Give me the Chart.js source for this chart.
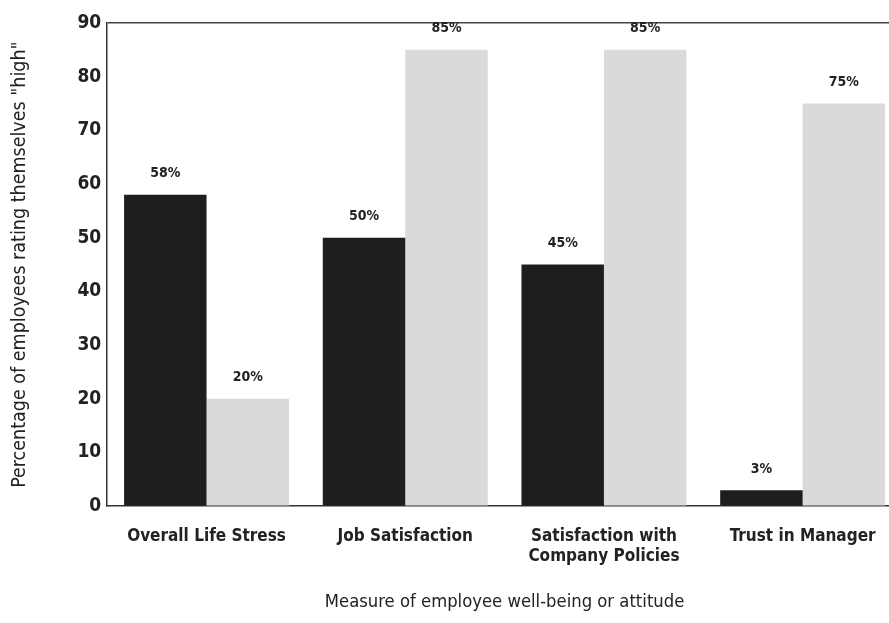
<!DOCTYPE html>
<html>
<head>
<meta charset="utf-8">
<script src="https://cdn.jsdelivr.net/npm/chart.js@4"></script>
<style>
  html, body { margin: 0; padding: 0; background: #fff; overflow: hidden; }
  #wrap { width: 902px; height: 623px; }
</style>
</head>
<body>
<div id="wrap"><canvas id="chart"></canvas></div>
<script>
const categories = [
    'Overall Life Stress',
    'Job Satisfaction',
    ['Satisfaction with', 'Company Policies'],
    'Trust in Manager'
]
const darkValues = [58, 50, 45, 3]
const lightValues = [20, 85, 85, 75]
const yTicks = [0, 10, 20, 30, 40, 50, 60, 70, 80, 90]

const FONT = '"Liberation Sans Narrow", "DejaVu Sans Condensed", sans-serif'
Chart.defaults.animation = false
Chart.defaults.color = '#1c1c1c'
Chart.defaults.font.family = FONT

const percentLabels = {
    id: 'percentLabels',
    afterDatasetsDraw(chart) {
        const ctx = chart.ctx
        ctx.save()
        ctx.font = 'bold 14px ' + FONT
        ctx.fillStyle = '#222'
        ctx.textAlign = 'center'
        ctx.textBaseline = 'bottom'
        chart.data.datasets.forEach((ds, i) => {
            chart.getDatasetMeta(i).data.forEach((bar, j) => {
                ctx.fillText(ds.data[j] + '%', bar.x, bar.y - 14)
            })
        })
        ctx.restore()
    }
}

new Chart(document.getElementById('chart'), {
    type: 'bar',
    data: {
        labels: categories,
        datasets: [
            { data: darkValues, backgroundColor: '#1e1e1e', borderWidth: 0 },
            { data: lightValues, backgroundColor: '#dadada', borderWidth: 0 }
        ]
    },
    options: {
        responsive: true,
        maintainAspectRatio: false,
        categoryPercentage: 0.83,
        barPercentage: 1.0,
        layout: { padding: { top: 23, left: 4, right: 0, bottom: 6 } },
        scales: {
            y: {
                min: 0,
                max: 90,
                afterBuildTicks: axis => { axis.ticks = yTicks.map(v => ({ value: v })) },
                border: { display: true, color: '#333', width: 1.5 },
                grid: {
                    drawTicks: false,
                    color: c => c.tick && c.tick.value === 90 ? '#444' : 'transparent',
                    lineWidth: 1.5
                },
                ticks: {
                    padding: 6,
                    font: { size: 19, weight: 'bold' },
                    color: '#222'
                },
                title: {
                    display: true,
                    text: 'Percentage of employees rating themselves "high"',
                    font: { size: 19.5 },
                    color: '#222',
                    padding: { bottom: 40 }
                }
            },
            x: {
                border: { display: true, color: '#333', width: 1.5 },
                grid: { display: false },
                ticks: {
                    padding: 12,
                    maxRotation: 0,
                    font: { size: 17, weight: 'bold' },
                    color: '#222'
                },
                title: {
                    display: true,
                    text: 'Measure of employee well-being or attitude',
                    font: { size: 18.3 },
                    color: '#222',
                    padding: { top: 12 }
                }
            }
        },
        plugins: {
            legend: { display: false },
            tooltip: { enabled: false }
        }
    },
    plugins: [percentLabels]
})
</script>
</body>
</html>
